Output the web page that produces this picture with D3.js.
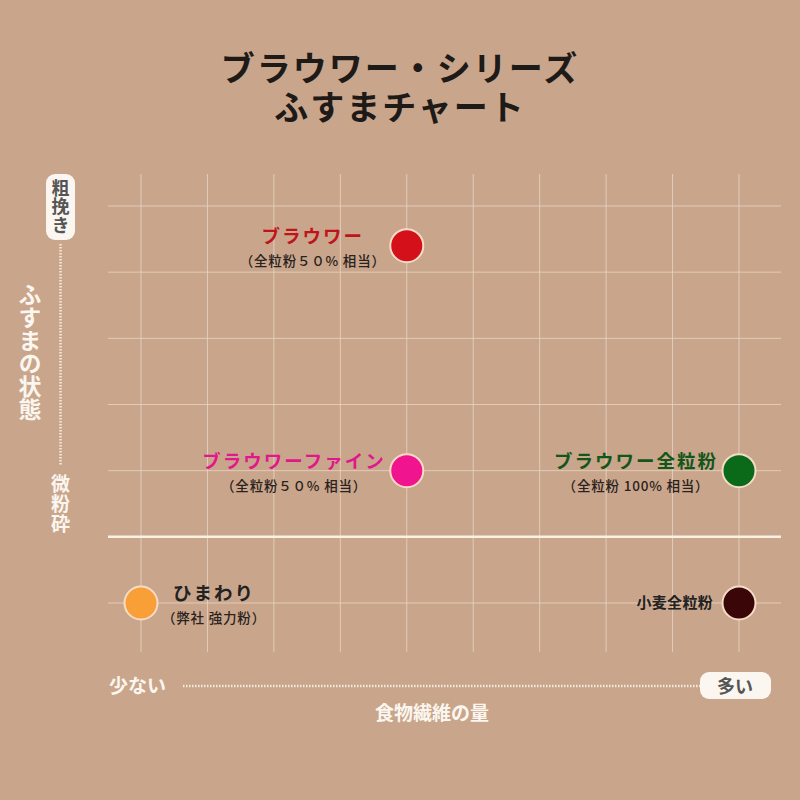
<!DOCTYPE html>
<html><head><meta charset="utf-8">
<script src="https://cdn.jsdelivr.net/npm/d3@7/dist/d3.min.js"></script>
<style>
html,body{margin:0;padding:0;background:#c9a68b;}
svg{display:block;font-family:"Noto Sans CJK JP","Noto Sans",sans-serif;}
</style></head>
<body>
<svg id="chart" width="800" height="800"></svg>
<script>
// ---- data ----
const titleLines = ["ブラウワー・シリーズ", "ふすまチャート"];
const products = ["ブラウワー", "ブラウワーファイン", "ブラウワー全粒粉", "ひまわり", "小麦全粒粉"];
const notes = ["（全粒粉５０% 相当）", "（全粒粉５０% 相当）", "（全粒粉 100% 相当）", "（弊社 強力粉）", ""];
const fiber = [4, 4, 9, 0, 9];          // 食物繊維の量 (grid units, 0 = 少ない .. 9 = 多い)
const bran = [0.6, 4, 4, 6, 6];          // ふすまの状態 (0 = 粗挽き .. 6 = 微粉砕以下)
const colors = ["#d4111b", "#f0148f", "#0a6a19", "#f89f37", "#3a0608"];
const textColors = ["#c0141c", "#e0188c", "#13561a", "#222222", "#222222"];
const labelSide = ["left", "left", "left", "right", "left"];
const xTicks = d3.range(0, 10);
const yTicks = [0, 1, 2, 3, 4, 6];
const dividerValue = 5;
const yAxisEnds = ["粗挽き", "微粉砕"];
const yAxisTitle = "ふすまの状態";
const xAxisEnds = ["少ない", "多い"];
const xAxisTitle = "食物繊維の量";

// ---- layout ----
const svg = d3.select("#chart");
const W = 800, H = 800;
svg.append("rect").attr("width", W).attr("height", H).attr("fill", "#c9a68b");

const x = d3.scaleLinear().domain([0, 9]).range([141, 739]);
const y = d3.scaleLinear().domain([0, 6]).range([206, 603]);

// title (one text element, two lines)
const title = svg.append("text")
  .attr("text-anchor", "middle").attr("font-size", 34).attr("font-weight", 700)
  .attr("letter-spacing", 2).attr("fill", "#1e1a18");
title.selectAll("tspan").data(titleLines).join("tspan")
  .attr("x", 400).attr("y", (d, i) => 81 + i * 39).text(d => d);

// grid
const grid = svg.append("g");
grid.selectAll("line.v").data(xTicks).join("line")
  .attr("x1", d => x(d)).attr("x2", d => x(d)).attr("y1", 174).attr("y2", 652)
  .attr("stroke", "#ead8c8").attr("stroke-opacity", 0.75).attr("stroke-width", 1);
grid.selectAll("line.h").data(yTicks).join("line")
  .attr("x1", 108).attr("x2", 781).attr("y1", d => y(d)).attr("y2", d => y(d))
  .attr("stroke", "#ead8c8").attr("stroke-opacity", 0.75).attr("stroke-width", 1);
grid.append("line")
  .attr("x1", 108).attr("x2", 781).attr("y1", y(dividerValue)).attr("y2", y(dividerValue))
  .attr("stroke", "#fbf1e6").attr("stroke-width", 2.5);

// y axis
const yax = svg.append("g");
yax.append("rect").attr("x", 46).attr("y", 174).attr("width", 29).attr("height", 66)
  .attr("rx", 9).attr("fill", "#fbf6f0");
yax.append("text").attr("x", 60.5).attr("y", 179)
  .attr("font-size", 18).attr("font-weight", 700).attr("fill", "#555")
  .attr("dominant-baseline", "central").attr("style", "writing-mode:vertical-rl")
  .attr("letter-spacing", 0.5).text(yAxisEnds[0]);
yax.append("line").attr("x1", 60.5).attr("x2", 60.5).attr("y1", 244).attr("y2", 466)
  .attr("stroke", "#f4e8dc").attr("stroke-width", 2.5).attr("stroke-dasharray", "1.5,1.5");
yax.append("text").attr("x", 60.5).attr("y", 474).attr("style", "writing-mode:vertical-rl")
  .attr("dominant-baseline", "central")
  .attr("font-size", 19).attr("font-weight", 700).attr("fill", "#fbf6f0")
  .attr("letter-spacing", 1).text(yAxisEnds[1]);
yax.append("text").attr("x", 30).attr("y", 283).attr("style", "writing-mode:vertical-rl")
  .attr("dominant-baseline", "central")
  .attr("font-size", 23).attr("font-weight", 700).attr("fill", "#fbf6f0")
  .text(yAxisTitle);

// x axis
const xax = svg.append("g");
xax.append("text").attr("x", 109).attr("y", 693).attr("font-size", 19).attr("font-weight", 700)
  .attr("fill", "#fbf6f0").text(xAxisEnds[0]);
xax.append("line").attr("x1", 183).attr("x2", 700).attr("y1", 686).attr("y2", 686)
  .attr("stroke", "#f4e8dc").attr("stroke-width", 2.5).attr("stroke-dasharray", "1.5,1.5");
xax.append("rect").attr("x", 700).attr("y", 672).attr("width", 71).attr("height", 27)
  .attr("rx", 9).attr("fill", "#fbf6f0");
xax.append("text").attr("x", 735).attr("y", 692.5).attr("text-anchor", "middle")
  .attr("font-size", 18).attr("font-weight", 700).attr("fill", "#555").text(xAxisEnds[1]);
xax.append("text").attr("x", 432).attr("y", 720).attr("text-anchor", "middle")
  .attr("font-size", 19).attr("font-weight", 700).attr("fill", "#fbf6f0").text(xAxisTitle);

// points
const data = products.map((p, i) => ({
  name: p, note: notes[i], fx: fiber[i], by: bran[i],
  color: colors[i], tcolor: textColors[i], side: labelSide[i]
}));

const pts = svg.append("g").selectAll("g").data(data).join("g");
pts.append("circle")
  .attr("cx", d => x(d.fx)).attr("cy", d => y(d.by)).attr("r", 16.5)
  .attr("fill", d => d.color).attr("stroke", "#f6dcc6").attr("stroke-width", 2);

pts.each(function(d) {
  const g = d3.select(this);
  const cx = x(d.fx), cy = y(d.by);
  const hasNote = d.note !== "";
  const big = d.name !== "小麦全粒粉";
  const t1 = g.append("text")
    .attr("font-size", big ? 18.5 : 15).attr("font-weight", 700)
    .attr("letter-spacing", big ? 2 : 0.3)
    .attr("fill", d.tcolor).attr("text-anchor", "middle").text(d.name);
  let t2 = null;
  if (hasNote) {
    t2 = g.append("text").attr("font-size", 13.5).attr("font-weight", 500)
      .attr("letter-spacing", 0.8)
      .attr("fill", "#2a2220").attr("text-anchor", "middle").text(d.note);
  }
  const w1 = t1.node().getComputedTextLength();
  const w2 = t2 ? t2.node().getComputedTextLength() : 0;
  const bw = Math.max(w1, w2);
  const gap = big ? 21 : 26;
  const center = d.side === "left" ? cx - gap - bw / 2 : cx + gap + bw / 2;
  if (hasNote) {
    t1.attr("x", center).attr("y", cy - 3);
    t2.attr("x", center).attr("y", cy + 20);
  } else {
    t1.attr("x", center).attr("y", cy + 5);
  }
});
</script>
</body></html>
